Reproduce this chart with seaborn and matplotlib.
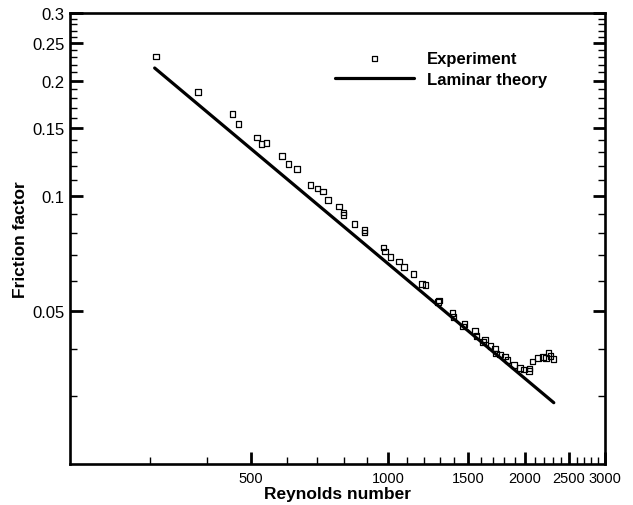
import numpy as np
import pandas as pd
import matplotlib
matplotlib.use("Agg")
import matplotlib.pyplot as plt
import seaborn as sns
from matplotlib.ticker import FixedLocator, FixedFormatter, NullFormatter

# ---- data ----
exp_re = [309, 382, 455, 469, 516, 527, 541, 585, 605, 631, 676, 700, 719, 739,
          781, 798, 798, 844, 888, 888, 978, 986, 1012, 1057, 1085, 1137, 1189,
          1208, 1293, 1290, 1385, 1394, 1472, 1462, 1553, 1564, 1633, 1619, 1680,
          1717, 1727, 1761, 1806, 1833, 1895, 1951, 1992, 2042, 2045, 2078, 2139,
          2192, 2228, 2254, 2277, 2312]
exp_f = [0.2312, 0.1869, 0.1634, 0.1539, 0.1421, 0.1365, 0.1373, 0.1270, 0.1210,
         0.1177, 0.1067, 0.1045, 0.1026, 0.0977, 0.0939, 0.0905, 0.0891, 0.0844,
         0.0814, 0.0804, 0.0733, 0.0716, 0.0694, 0.0675, 0.0653, 0.0625, 0.0589,
         0.0585, 0.0534, 0.0529, 0.0496, 0.0483, 0.0463, 0.0457, 0.0445, 0.0431,
         0.0422, 0.0416, 0.0406, 0.0400, 0.0388, 0.0386, 0.0381, 0.0373, 0.0363,
         0.0356, 0.0353, 0.0350, 0.0355, 0.0370, 0.0378, 0.0380, 0.0378, 0.0389,
         0.0382, 0.0376]
theory_re = [307, 2315]
theory_f = [0.2156, 0.0289]

x_major = [500, 1000, 1500, 2000, 2500, 3000]
x_major_labels = ["500", "1000", "1500", "2000", "2500", "3000"]
y_major = [0.05, 0.1, 0.15, 0.2, 0.25, 0.3]
y_major_labels = ["0.05", "0.1", "0.15", "0.2", "0.25", "0.3"]

sns.set_theme(style="ticks")
plt.rcParams["font.family"] = ["Liberation Sans", "DejaVu Sans"]
plt.rcParams["text.color"] = "black"
plt.rcParams["axes.labelcolor"] = "black"
plt.rcParams["xtick.color"] = "black"
plt.rcParams["ytick.color"] = "black"
plt.rcParams["axes.edgecolor"] = "black"

fig = plt.figure(figsize=(6.33, 5.06), dpi=100)
ax = fig.add_axes([70/633, 1-465/506, 535/633, 451/506])

df_exp = pd.DataFrame({"Re": exp_re, "f": exp_f})
df_th = pd.DataFrame({"Re": theory_re, "f": theory_f})

sns.scatterplot(data=df_exp, x="Re", y="f", ax=ax, marker="s", s=16,
                facecolors="none", edgecolors="black", linewidth=0.9,
                label="Experiment", zorder=3)
sns.lineplot(data=df_th, x="Re", y="f", ax=ax, color="black", linewidth=2.3,
             label="Laminar theory", zorder=2)

ax.set_xscale("log")
ax.set_yscale("log")
ax.set_xlim(200, 3000)
ax.set_ylim(0.02, 0.3)

x_minor = [v for v in range(300, 3000, 100) if v not in x_major]
y_minor = [round(v, 2) for v in np.arange(0.03, 0.30, 0.01) if round(v, 2) not in [round(m, 2) for m in y_major]]
ax.xaxis.set_major_locator(FixedLocator(x_major))
ax.xaxis.set_major_formatter(FixedFormatter(x_major_labels))
ax.xaxis.set_minor_locator(FixedLocator(x_minor))
ax.xaxis.set_minor_formatter(NullFormatter())
ax.yaxis.set_major_locator(FixedLocator(y_major))
ax.yaxis.set_major_formatter(FixedFormatter(y_major_labels))
ax.yaxis.set_minor_locator(FixedLocator(y_minor))
ax.yaxis.set_minor_formatter(NullFormatter())

for s in ax.spines.values():
    s.set_linewidth(1.9)
    s.set_color("black")
ax.tick_params(which="major", direction="in", length=9, width=2.0,
               left=True, right=True, bottom=True, top=False, color="black")
ax.tick_params(which="minor", direction="in", length=5, width=1.0,
               left=True, right=True, bottom=True, top=False, color="black")
ax.tick_params(axis="x", which="major", labelsize=10.5, pad=5, labelcolor="black")
ax.tick_params(axis="y", which="major", labelsize=12, pad=4, labelcolor="black")

ax.set_xlabel("Reynolds number", fontsize=12.5, fontweight="bold", labelpad=1, color="black")
ax.set_ylabel("Friction factor", fontsize=12.5, fontweight="bold", labelpad=3, color="black")

leg = ax.legend(loc="upper left", bbox_to_anchor=(335/633, 1-52/506),
                bbox_transform=fig.transFigure, frameon=False,
                prop={"weight": "bold", "size": 12}, handlelength=4.76,
                handletextpad=0.75, labelspacing=0.35, borderpad=0, borderaxespad=0)
for t in leg.get_texts():
    t.set_color("black")

fig.savefig("out.png", dpi=100)
